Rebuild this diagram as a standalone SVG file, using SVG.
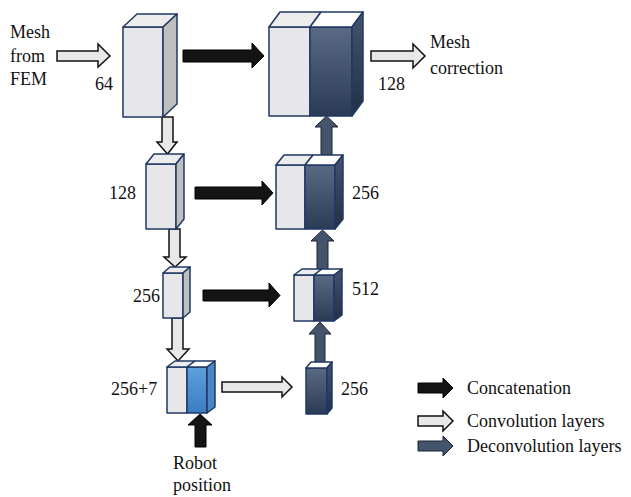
<svg xmlns="http://www.w3.org/2000/svg" width="631" height="497" viewBox="0 0 631 497">
<defs>
<linearGradient id="dk" x1="0" y1="0" x2="0" y2="1"><stop offset="0" stop-color="#5a6a84"/><stop offset="1" stop-color="#2b3a55"/></linearGradient>
<linearGradient id="dks" x1="0" y1="0" x2="0" y2="1"><stop offset="0" stop-color="#44546e"/><stop offset="1" stop-color="#222f47"/></linearGradient>
<linearGradient id="bl" x1="0" y1="0" x2="0" y2="1"><stop offset="0" stop-color="#5e9fdc"/><stop offset="1" stop-color="#3b7dc2"/></linearGradient>
</defs>
<style>
text{font-family:'Liberation Serif',serif;font-size:18px;fill:#111}
.e{stroke:#1f3864;stroke-width:1.5;stroke-linejoin:round}
.g{fill:#e7e6e8}.gs{fill:#bfbfbf}.gt{fill:#ececec}.w{fill:#ffffff}
.d{fill:url(#dk)}.ds{fill:url(#dks)}.b{fill:url(#bl)}.bs{fill:#4a86c6}
.ab{fill:#141414;stroke:#000;stroke-width:1}
.al{fill:#e8e8e8;stroke:#111;stroke-width:1.5}
.ad{fill:#44546a;stroke:#1a2233;stroke-width:1}
</style>
<g id="connectors">
<polygon class="al" points="57,51 98,51 98,44 110,56 98,67 98,61 57,61"/>
<polygon class="ab" points="183,50 252,50 252,43 264,56 252,68 252,62 183,62"/>
<polygon class="al" points="371,51 413,51 413,44 425,56 413,68 413,61 371,61"/>
<polygon class="ab" points="195,187 262,187 262,181 273,193 262,205 262,199 195,199"/>
<polygon class="ab" points="203,290 269,290 269,283 280,295.5 269,307 269,301 203,301"/>
<polygon class="al" points="222,382 282,382 282,377 292,387 282,397 282,392 222,392"/>
<polygon class="al" points="162,117 173,117 173,142 177,142 167.5,154 157,142 162,142"/>
<polygon class="al" points="169,229 180,229 180,257 186,257 175,267 164,257 169,257"/>
<polygon class="al" points="172,318 183,318 183,349 189,349 178,361 167,349 172,349"/>
<polygon class="ad" points="321,160 332,160 332,127 338,127 326.5,116 315,127 321,127"/>
<polygon class="ad" points="317,272 328,272 328,241 334,241 322.5,230 311,241 317,241"/>
<polygon class="ad" points="315,365 325,365 325,334 331,334 320,322 309,334 315,334"/>
<polygon class="ab" points="195,447 206,447 206,425 212,425 200,414 188,425 195,425"/>
</g>
<g id="box64">
<rect class="g e" x="123" y="27" width="40" height="90"/>
<polygon class="gt e" points="123,27 137,14 177,14 163,27"/>
<polygon class="gs e" points="163,27 177,14 177,104 163,117"/>
</g>
<g id="box128out">
<rect class="g e" x="269" y="27" width="41" height="89"/>
<rect class="d e" x="310" y="27" width="42" height="89"/>
<polygon class="gt e" points="269,27 280,12 321,12 310,27"/>
<polygon class="w e" points="310,27 321,12 363,12 352,27"/>
<polygon class="ds e" points="352,27 363,12 363,101 352,116"/>
</g>
<g id="box128">
<rect class="g e" x="146" y="164" width="30" height="65"/>
<polygon class="gt e" points="146,164 154,154 184,154 176,164"/>
<polygon class="gs e" points="176,164 184,154 184,219 176,229"/>
</g>
<g id="box256cat">
<rect class="g e" x="276" y="165" width="29" height="64"/>
<rect class="d e" x="305" y="165" width="30" height="64"/>
<polygon class="gt e" points="276,165 284,155 313,155 305,165"/>
<polygon class="w e" points="305,165 313,155 343,155 335,165"/>
<polygon class="ds e" points="335,165 343,155 343,219 335,229"/>
</g>
<g id="box256">
<rect class="g e" x="163" y="273" width="20" height="45"/>
<polygon class="gt e" points="163,273 170,267 190,267 183,273"/>
<polygon class="gs e" points="183,273 190,267 190,312 183,318"/>
</g>
<g id="box512">
<rect class="g e" x="294" y="275" width="20" height="46"/>
<rect class="d e" x="314" y="275" width="20" height="46"/>
<polygon class="gt e" points="294,275 302,269 322,269 314,275"/>
<polygon class="w e" points="314,275 322,269 342,269 334,275"/>
<polygon class="ds e" points="334,275 342,269 342,315 334,321"/>
</g>
<g id="box2567">
<rect class="g e" x="167" y="367" width="20" height="46"/>
<rect class="b e" x="187" y="367" width="20" height="46"/>
<polygon class="gt e" points="167,367 175,361 195,361 187,367"/>
<polygon class="w e" points="187,367 195,361 215,361 207,367"/>
<polygon class="bs e" points="207,367 215,361 215,407 207,413"/>
</g>
<g id="box256d">
<rect class="d e" x="306" y="368" width="21" height="46"/>
<polygon class="w e" points="306,368 311,362 332,362 327,368"/>
<polygon class="ds e" points="327,368 332,362 332,408 327,414"/>
</g>
<g id="labels" font-family="Liberation Serif, serif">
<text x="10" y="38">Mesh</text>
<text x="10" y="62">from</text>
<text x="10" y="85">FEM</text>
<text x="95" y="90">64</text>
<text x="378" y="90">128</text>
<text x="430" y="48">Mesh</text>
<text x="430" y="74">correction</text>
<text x="109" y="199">128</text>
<text x="352" y="199">256</text>
<text x="133" y="302">256</text>
<text x="352" y="295">512</text>
<text x="111" y="395">256+7</text>
<text x="341" y="395">256</text>
<text x="173" y="469">Robot</text>
<text x="173" y="491">position</text>
</g>
<g id="legend" font-family="Liberation Serif, serif">
<polygon class="ab" points="418,383 443,383 443,378 453,388 443,398 443,393 418,393"/>
<polygon class="al" points="418,416 443,416 443,411 453,421 443,431 443,426 418,426"/>
<polygon class="ad" points="418,441 443,441 443,436 453,446 443,456 443,451 418,451"/>
<text x="467" y="394">Concatenation</text>
<text x="467" y="427">Convolution layers</text>
<text x="467" y="452">Deconvolution layers</text>
</g>
</svg>
